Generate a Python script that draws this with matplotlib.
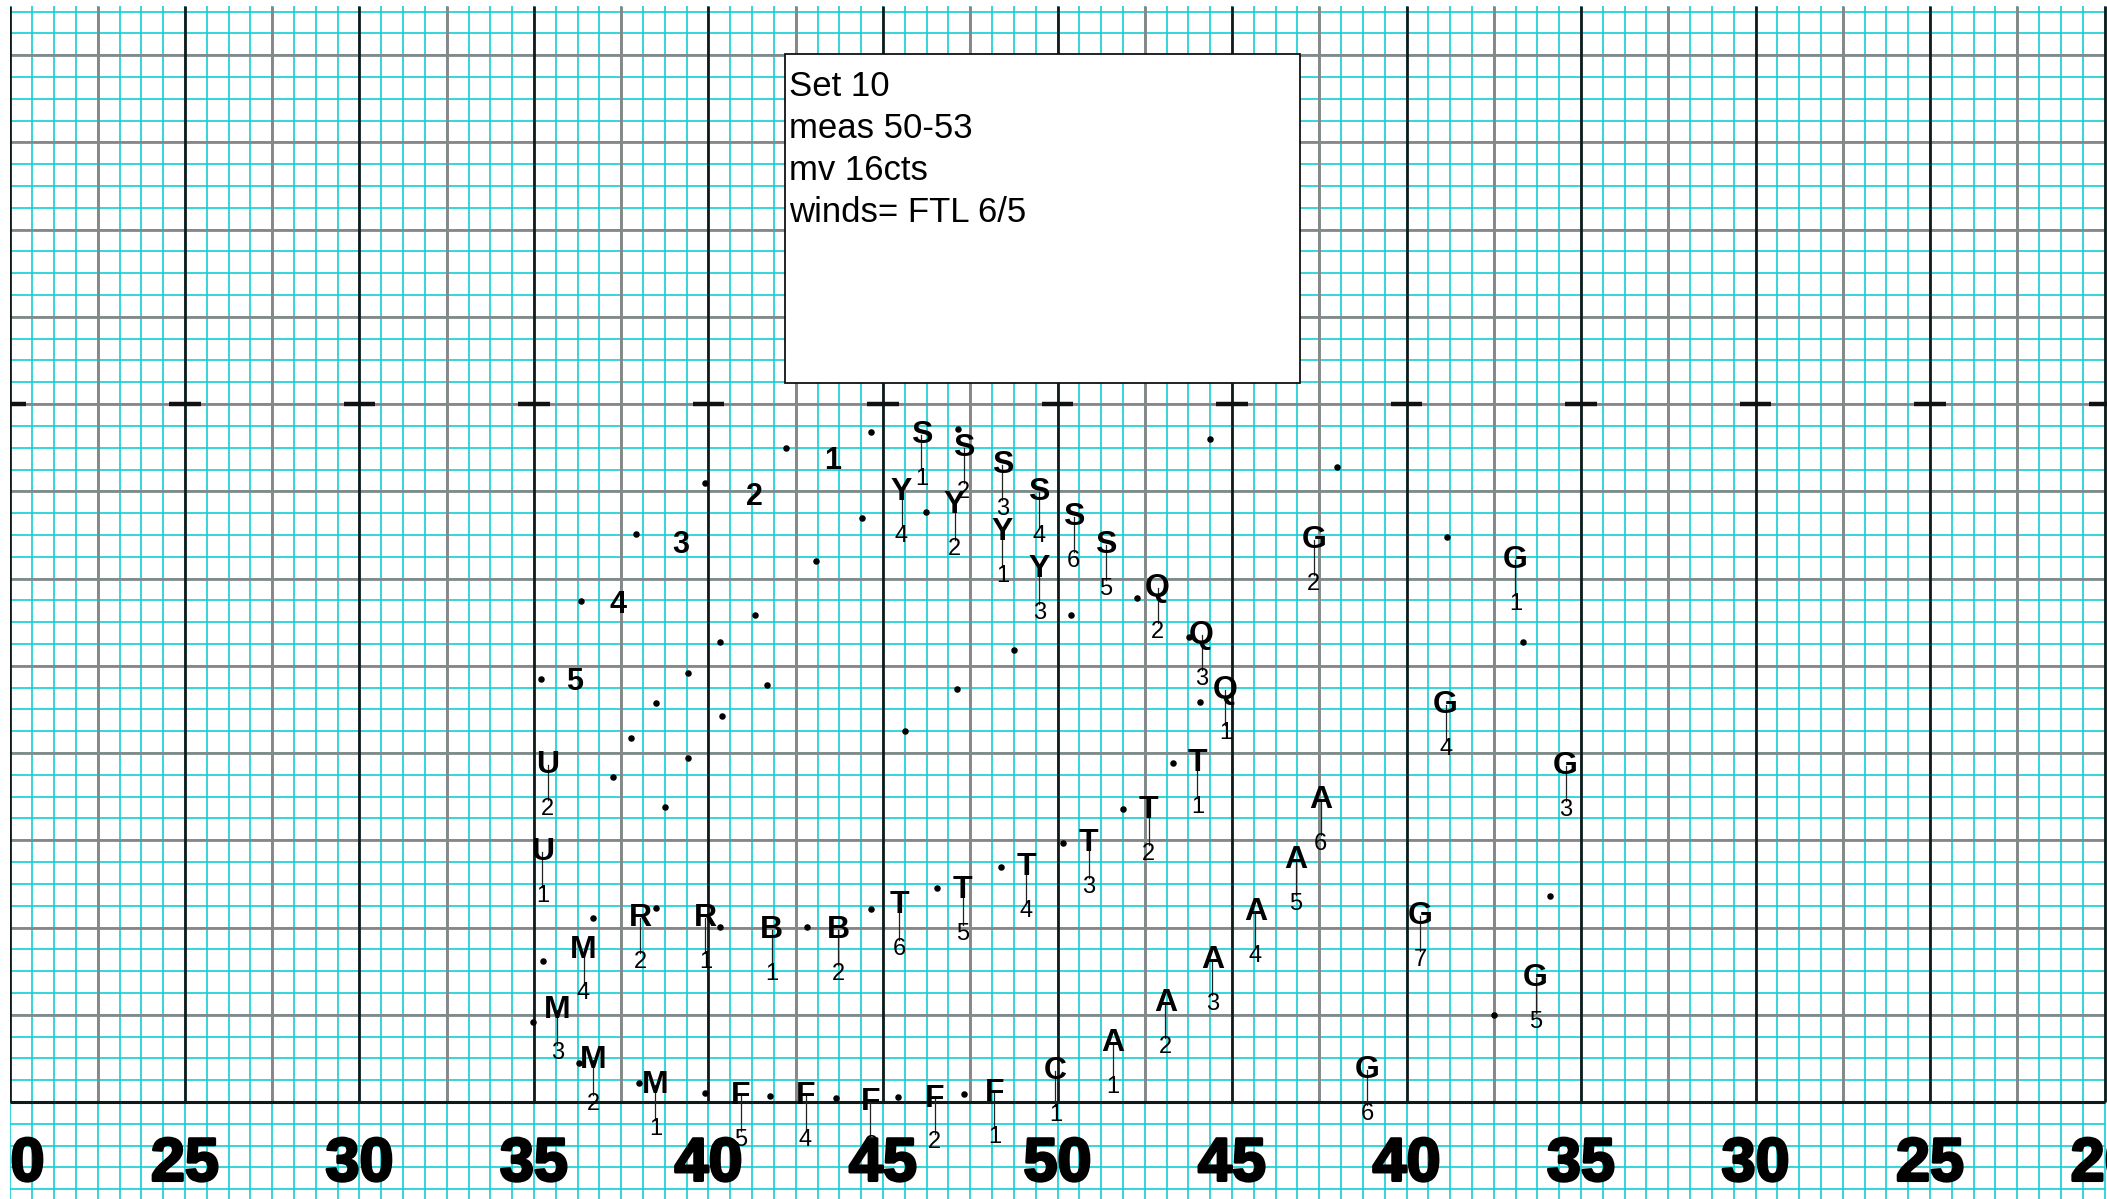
import numpy as np
import matplotlib.pyplot as plt
import matplotlib.patheffects as pe
from matplotlib.patches import Rectangle

plt.rcParams['font.family'] = ['Liberation Sans', 'DejaVu Sans']

# === Дані (ярди: x вздовж поля, y від бокової лінії) ===
perf_letter = ['U', 'U', 'R', 'R', 'B', 'B', 'M', 'M', 'M', 'M',
               'F', 'F', 'F', 'F', 'F', 'C',
               'A', 'A', 'A', 'A', 'A', 'A',
               'T', 'T', 'T', 'T', 'T', 'T',
               'Q', 'Q', 'Q',
               'S', 'S', 'S', 'S', 'S', 'S',
               'Y', 'Y', 'Y', 'Y',
               'G', 'G', 'G', 'G', 'G', 'G', 'G']
perf_num = ['2', '1', '2', '1', '1', '2', '4', '3', '2', '1',
            '5', '4', '3', '2', '1', '1',
            '1', '2', '3', '4', '5', '6',
            '6', '5', '4', '3', '2', '1',
            '2', '3', '1',
            '1', '2', '3', '4', '6', '5',
            '4', '2', '1', '3',
            '1', '2', '3', '4', '5', '6', '7']
perf_x = [35.39, 35.24, 38.05, 39.91, 41.81, 43.72, 36.42, 35.67, 36.70, 38.48,
          40.92, 42.78, 44.64, 46.48, 48.19, 49.94,
          51.58, 53.09, 54.44, 55.67, 56.82, 57.54,
          45.47, 47.28, 49.11, 50.89, 52.61, 54.01,
          52.87, 54.13, 54.81,
          46.10, 47.31, 48.42, 49.46, 50.46, 51.38,
          45.53, 47.05, 48.42, 49.48,
          63.12, 57.34, 64.56, 61.12, 63.70, 58.88, 60.40]
perf_y = [9.66, 7.16, 5.27, 5.27, 4.93, 4.93, 4.36, 2.64, 1.20, 0.49,
          0.17, 0.17, 0.00, 0.09, 0.26, 0.89,
          1.69, 2.84, 4.07, 5.44, 6.93, 8.65,
          5.64, 6.07, 6.73, 7.42, 8.37, 9.71,
          14.73, 13.38, 11.81,
          19.11, 18.74, 18.25, 17.48, 16.76, 15.96,
          17.48, 17.11, 16.33, 15.27,
          15.53, 16.10, 9.63, 11.38, 3.55, 0.92, 5.33]

arc_num = ['1', '2', '3', '4', '5']
arc_x = [43.55, 41.32, 39.20, 37.42, 36.16]
arc_y = [18.37, 17.34, 15.96, 14.24, 12.03]

dot_x = [44.67, 42.23, 39.91, 37.91, 36.36, 35.21,
         44.41, 43.09, 41.32, 40.32, 39.40, 41.69, 38.51, 40.40, 37.79, 45.64,
         39.40, 37.25, 38.74,
         36.68, 38.51, 40.32, 42.81, 44.67,
         35.27, 34.96, 36.28, 38.02, 39.91, 41.75, 43.64, 45.44, 47.31,
         47.16, 46.22, 54.36, 52.29, 50.40, 48.74, 47.13, 53.78, 54.07,
         53.32, 51.89, 50.17, 48.37, 46.56,
         58.02, 61.15, 63.35, 64.10, 62.52]
dot_y = [19.20, 18.74, 17.74, 16.28, 14.36, 12.12,
         16.73, 15.50, 13.95, 13.18, 12.29, 11.95, 11.43, 11.06, 10.43, 10.63,
         9.86, 9.31, 8.45,
         5.27, 5.56, 5.01, 5.01, 5.53,
         4.04, 2.29, 1.12, 0.54, 0.26, 0.17, 0.11, 0.14, 0.23,
         19.28, 16.91, 19.00, 14.44, 13.95, 12.95, 11.83, 13.32, 11.46,
         9.71, 8.40, 7.42, 6.73, 6.13,
         18.19, 16.19, 13.18, 5.90, 2.49]

yard_labels = ['20', '25', '30', '35', '40', '45', '50', '45', '40', '35', '30', '25', '20']
note_lines = ['Set 10', 'meas 50-53', 'mv 16cts', 'winds= FTL 6/5']

# === Поле ===
fig = plt.figure(figsize=(21.07, 11.99), dpi=100)
ax = fig.add_axes([0, 0, 1, 1])
ax.set_xlim(19.70, 80.07)
ax.set_ylim(-2.78, 31.58)
ax.axis('off')

top = 31.4
bottom = -2.78
step = 0.625
cyan = '#12cfd2'

# дрібна сітка 8 кроків на 5 ярдів
ax.vlines(np.arange(20, 80.001, step), bottom, top, color=cyan, lw=1.2, zorder=1)
ax.hlines(np.arange(-4 * step, top, step), 20, 80, color=cyan, lw=1.2, zorder=1)

# сірі лінії кожні 4 кроки
ax.vlines(np.arange(22.5, 80, 5), 0, top, color='#868888', lw=2.1, zorder=2)
ax.hlines(np.arange(2.5, top, 2.5), 20, 80, color='#868888', lw=2.0, zorder=2)

# ярдові лінії, бокова лінія, хеші
yard_x = np.arange(20, 80.001, 5)
ax.vlines(yard_x, 0, top, color='#111a1a', lw=2.0, zorder=3)
ax.hlines(0, 20, 80, color='#111a1a', lw=2.2, zorder=3)
for xx in yard_x:
    ax.plot([xx - 0.45, xx + 0.45], [20, 20], color='#111', lw=3.2,
            solid_capstyle='butt', zorder=3)

for xx, lab in zip(yard_x, yard_labels):
    ax.text(xx, -1.81, lab, ha='center', va='center', fontsize=44,
            fontweight='bold', color='black', zorder=4,
            path_effects=[pe.withStroke(linewidth=2, foreground='black')])

# === Примітка ===
ax.add_patch(Rectangle((42.18, 20.6), 14.78, 9.43, facecolor='white',
                       edgecolor='#111', lw=1.3, zorder=5))
for i, line in enumerate(note_lines):
    ax.text(42.32, 28.83 - 1.203 * i, line, ha='left', va='baseline',
            fontsize=25, color='black', zorder=6)

# === Виконавці ===
ax.scatter(dot_x, dot_y, s=22, color='black', zorder=6, linewidths=0)

for let, num, xx, yy in zip(perf_letter, perf_num, perf_x, perf_y):
    ax.plot([xx, xx], [yy, yy - 1.0], color='#222', lw=0.9, zorder=6)
    ax.text(xx, yy, let, ha='center', va='center', fontsize=23,
            fontweight='bold', color='black', zorder=7)
    ax.text(xx, yy - 1.25, num, ha='center', va='center', fontsize=17,
            color='black', zorder=7)

for num, xx, yy in zip(arc_num, arc_x, arc_y):
    ax.text(xx, yy, num, ha='center', va='center', fontsize=22,
            fontweight='bold', color='black', zorder=7)

# ліворуч усе обрізано по лінії 20 ярдів
ax.add_patch(Rectangle((19.70, -2.78), 0.29, 34.36, facecolor='white',
                       edgecolor='none', zorder=10))

plt.savefig('out.png', dpi=100)
